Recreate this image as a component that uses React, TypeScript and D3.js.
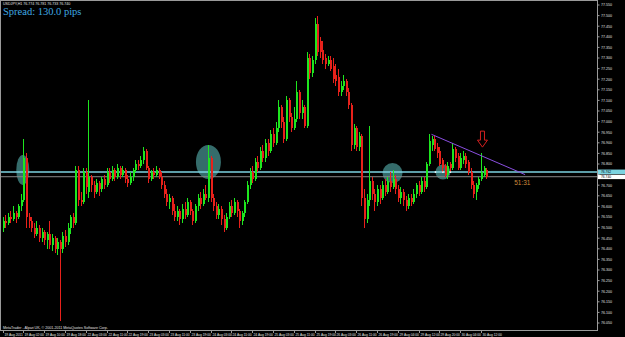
import React from 'react';
import * as d3 from 'd3';

// [open, high, low, close] per H1 bar
const ohlc: [number, number, number, number][] = [
  [76.50,76.55,76.48,76.53],[76.53,76.56,76.50,76.52],[76.52,76.57,76.51,76.55],[76.55,76.58,76.52,76.54],
  [76.54,76.60,76.53,76.57],[76.57,76.58,76.52,76.55],[76.55,76.61,76.54,76.60],[76.60,76.66,76.58,76.63],
  [76.63,76.92,76.62,76.83],[76.83,76.85,76.50,76.55],[76.55,76.57,76.50,76.53],[76.53,76.55,76.48,76.50],
  [76.50,76.52,76.45,76.47],[76.47,76.53,76.46,76.50],[76.50,76.51,76.43,76.45],[76.45,76.50,76.43,76.48],
  [76.48,76.49,76.42,76.44],[76.44,76.48,76.40,76.47],[76.47,76.53,76.40,76.42],[76.42,76.47,76.39,76.45],
  [76.45,76.46,76.38,76.40],[76.40,76.45,76.37,76.43],[76.43,76.44,76.06,76.40],[76.40,76.48,76.38,76.46],
  [76.46,76.49,76.41,76.43],[76.43,76.52,76.42,76.50],[76.50,76.56,76.47,76.55],[76.55,76.57,76.50,76.52],
  [76.52,76.79,76.51,76.77],[76.77,76.79,76.60,76.63],[76.63,76.67,76.60,76.62],[76.62,76.78,76.61,76.76],
  [76.76,76.78,76.66,76.69],[76.67,77.10,76.64,76.74],[76.74,76.75,76.67,76.70],[76.70,76.72,76.64,76.67],
  [76.67,76.73,76.66,76.71],[76.71,76.72,76.65,76.68],[76.68,76.74,76.67,76.73],[76.73,76.75,76.68,76.70],
  [76.70,76.78,76.69,76.76],[76.76,76.78,76.71,76.73],[76.73,76.79,76.72,76.77],[76.77,76.78,76.72,76.74],
  [76.74,76.80,76.73,76.78],[76.78,76.79,76.73,76.75],[76.75,76.79,76.74,76.77],[76.77,76.78,76.71,76.73],
  [76.73,76.75,76.69,76.71],[76.71,76.76,76.70,76.74],[76.74,76.78,76.72,76.77],[76.77,76.82,76.76,76.80],
  [76.80,76.82,76.77,76.79],[76.79,76.84,76.78,76.82],[76.82,76.88,76.80,76.86],[76.86,76.87,76.77,76.78],
  [76.78,76.79,76.71,76.73],[76.73,76.77,76.72,76.76],[76.76,76.78,76.73,76.75],[76.75,76.79,76.74,76.77],
  [76.77,76.78,76.73,76.74],[76.74,76.76,76.68,76.70],[76.70,76.72,76.64,76.66],[76.66,76.68,76.60,76.62],
  [76.62,76.66,76.59,76.64],[76.64,76.65,76.56,76.58],[76.58,76.61,76.53,76.55],[76.55,76.60,76.53,76.58],
  [76.58,76.59,76.51,76.54],[76.54,76.61,76.52,76.59],[76.59,76.62,76.54,76.56],[76.56,76.64,76.55,76.62],
  [76.62,76.63,76.56,76.58],[76.58,76.59,76.51,76.53],[76.53,76.61,76.52,76.60],[76.60,76.66,76.58,76.64],
  [76.64,76.67,76.59,76.61],[76.61,76.68,76.60,76.66],[76.66,76.70,76.63,76.64],[76.64,76.89,76.62,76.83],
  [76.83,76.84,76.62,76.64],[76.64,76.66,76.58,76.60],[76.60,76.62,76.54,76.56],[76.56,76.61,76.54,76.59],
  [76.59,76.60,76.51,76.54],[76.54,76.56,76.48,76.50],[76.50,76.57,76.49,76.55],[76.55,76.62,76.54,76.60],
  [76.60,76.63,76.55,76.57],[76.57,76.64,76.56,76.62],[76.62,76.63,76.55,76.58],[76.58,76.59,76.50,76.53],
  [76.53,76.58,76.51,76.57],[76.57,76.63,76.55,76.62],[76.62,76.72,76.61,76.70],[76.70,76.78,76.68,76.76],
  [76.76,76.79,76.71,76.73],[76.73,76.83,76.72,76.81],[76.81,76.84,76.76,76.78],[76.78,76.88,76.77,76.86],
  [76.86,76.89,76.81,76.83],[76.83,76.92,76.81,76.90],[76.90,76.92,76.84,76.86],[76.86,76.96,76.85,76.94],
  [76.94,76.97,76.88,76.90],[76.90,77.00,76.89,76.97],[76.97,77.10,76.95,77.07],[77.07,77.08,76.97,77.00],
  [77.00,77.02,76.90,76.92],[76.92,77.12,76.91,77.10],[77.10,77.11,77.00,77.02],[77.02,77.04,76.95,76.97],
  [76.97,77.07,76.96,77.01],[77.01,77.19,77.00,77.14],[77.14,77.15,77.01,77.04],[77.04,77.10,77.01,77.07],
  [77.07,77.08,76.97,76.98],[76.98,77.33,76.97,77.30],[77.30,77.32,77.20,77.23],[77.23,77.31,77.21,77.29],
  [77.29,77.49,77.27,77.46],[77.46,77.50,77.31,77.33],[77.38,77.40,77.30,77.33],[77.34,77.38,77.27,77.29],
  [77.30,77.32,77.25,77.27],[77.27,77.31,77.26,77.29],[77.29,77.31,77.24,77.25],[77.26,77.30,77.18,77.20],
  [77.22,77.27,77.17,77.19],[77.21,77.25,77.12,77.14],[77.14,77.19,77.12,77.17],[77.17,77.22,77.15,77.19],
  [77.19,77.20,77.12,77.14],[77.14,77.16,77.06,77.08],[77.08,77.09,76.86,76.89],[76.89,76.99,76.87,76.97],
  [76.97,76.98,76.86,76.88],[76.88,76.95,76.86,76.93],[76.93,76.94,76.60,76.64],[76.64,76.68,76.50,76.54],
  [76.54,76.66,76.52,76.63],[76.63,76.98,76.60,76.72],[76.72,76.74,76.63,76.66],[76.66,76.68,76.58,76.62],
  [76.62,76.70,76.60,76.68],[76.68,76.70,76.61,76.64],[76.64,76.72,76.63,76.70],[76.70,76.73,76.65,76.67],
  [76.67,76.74,76.66,76.72],[76.72,76.76,76.67,76.69],[76.69,76.77,76.68,76.73],[76.73,76.75,76.66,76.68],
  [76.68,76.70,76.62,76.64],[76.64,76.69,76.61,76.67],[76.67,76.68,76.60,76.63],[76.63,76.65,76.58,76.60],
  [76.60,76.66,76.59,76.64],[76.64,76.66,76.60,76.62],[76.62,76.68,76.61,76.66],[76.66,76.71,76.64,76.70],
  [76.70,76.72,76.65,76.67],[76.67,76.74,76.66,76.72],[76.72,76.74,76.67,76.69],[76.69,76.81,76.68,76.80],
  [76.80,76.94,76.79,76.91],[76.89,76.93,76.86,76.92],[76.92,76.93,76.86,76.87],[76.88,76.90,76.83,76.85],
  [76.86,76.88,76.79,76.80],[76.82,76.83,76.76,76.78],[76.79,76.80,76.74,76.75],[76.75,76.81,76.73,76.79],
  [76.80,76.81,76.76,76.78],[76.78,76.90,76.77,76.87],[76.87,76.88,76.81,76.83],[76.84,76.85,76.77,76.78],
  [76.78,76.85,76.77,76.83],[76.82,76.86,76.80,76.84],[76.84,76.85,76.78,76.80],[76.81,76.82,76.75,76.76],
  [76.76,76.78,76.68,76.70],[76.70,76.72,76.64,76.66],[76.67,76.71,76.63,76.70],[76.70,76.74,76.68,76.73],
  [76.73,76.85,76.72,76.76],[76.75,76.79,76.74,76.78],[76.77,76.78,76.73,76.74],
];

const dateLabels = [
  '19 Aug 2011', '19 Aug 02:00', '19 Aug 10:00', '19 Aug 18:00', '22 Aug 03:00', '22 Aug 11:00',
  '22 Aug 19:00', '23 Aug 03:00', '23 Aug 11:00', '23 Aug 19:00', '24 Aug 03:00', '24 Aug 11:00',
  '24 Aug 19:00', '25 Aug 03:00', '25 Aug 11:00', '25 Aug 19:00', '26 Aug 03:00', '26 Aug 11:00',
  '26 Aug 19:00', '29 Aug 04:00', '29 Aug 12:00', '29 Aug 20:00', '30 Aug 04:00', '30 Aug 12:00',
];
const labelEvery = 8;

const priceMin = 76.05;
const priceMax = 77.55;
const priceStep = 0.05;

const hLinePrice = 76.762;
const bidPrice = 76.740;

const trendBars = [165, 201];
const trendPrices = [76.94, 76.75];

const ellipseBars = [7.8, 79.2, 150, 169.4];
const ellipsePrices = [76.772, 76.81, 76.757, 76.762];
const ellipseRx = [6.5, 12.5, 10, 7.5];
const ellipseRy = [15, 17, 10, 7.5];

const arrowBar = 184.6;
const arrowPrice = 76.955;
const timerBar = 196.8;
const timerPrice = 76.70;

const W = 625, H = 337;
const axisX = 597, axisY = 330;

export default function App() {
  const x = d3.scaleLinear().domain([0, 186]).range([2.5, 2.5 + 2.6 * 186]);
  const y = d3.scaleLinear().domain([priceMin, priceMax]).range([323, 5]);
  const ticks = d3.range(0, Math.round((priceMax - priceMin) / priceStep) + 1).map(i => priceMax - i * priceStep);
  const fmt = d3.format('.3f');
  const tiny = { fontFamily: 'Liberation Sans, Arial, sans-serif', fontSize: 3.6, fill: '#e0e0e0' } as const;
  const tinyX = { fontFamily: 'Liberation Sans, Arial, sans-serif', fontSize: 3.3, fill: '#e0e0e0' } as const;

  const ay = y(arrowPrice), ax = x(arrowBar);
  const arrowPath = `M${ax - 2},${ay} L${ax + 2},${ay} L${ax + 2},${ay + 9} L${ax + 5},${ay + 9} L${ax},${ay + 16} L${ax - 5},${ay + 9} L${ax - 2},${ay + 9} Z`;

  const yH = y(hLinePrice), yB = y(bidPrice);

  return (
    <svg width={W} height={H} style={{ position: 'absolute', left: 0, top: 0, background: '#000' }}>
      <rect x={0} y={0} width={W} height={H} fill="#000" />
      {ellipseBars.map((b, i) => (
        <ellipse key={'e' + i} cx={x(b)} cy={y(ellipsePrices[i])} rx={ellipseRx[i]} ry={ellipseRy[i]} fill="#3b7877" opacity={0.9} />
      ))}
      <line x1={0} x2={axisX} y1={yH} y2={yH} stroke="#7cd3e0" strokeWidth={1.6} />
      <line x1={0} x2={axisX} y1={yB} y2={yB} stroke="#8a8a8a" strokeWidth={1} />
      <g shapeRendering="crispEdges">
        {ohlc.map(([o, h, l, c], i) => {
          const up = c >= o;
          const col = up ? '#1ee61e' : '#e8211b';
          const cx = Math.round(x(i));
          const top = y(Math.max(o, c));
          const bot = y(Math.min(o, c));
          return (
            <g key={i}>
              <line x1={cx + 0.5} x2={cx + 0.5} y1={y(Math.max(h, o, c))} y2={y(Math.min(l, o, c))} stroke={col} strokeWidth={1} />
              <rect x={cx - 0.5} y={top} width={2} height={Math.max(1, bot - top)} fill={col} />
            </g>
          );
        })}
      </g>
      {[-1, 0, 1].map(d => (
        <rect key={'d' + d} x={x(ellipseBars[3]) + d * 7.5 - 0.75} y={y(ellipsePrices[3]) - 0.75} width={1.5} height={1.5} fill="#ffffff" />
      ))}
      <line x1={x(trendBars[0])} y1={y(trendPrices[0])} x2={x(trendBars[1])} y2={y(trendPrices[1])} stroke="#8a4fe0" strokeWidth={1} />
      <path d={arrowPath} fill="none" stroke="#d42020" strokeWidth={1} />
      <text x={x(timerBar)} y={y(timerPrice)} fontFamily="Liberation Sans, Arial, sans-serif" fontSize={6.5} fill="#d08a3a">51:31</text>
      <line x1={0.5} x2={0.5} y1={0} y2={axisY} stroke="#9a9a9a" />
      <line x1={0} x2={axisX} y1={0.5} y2={0.5} stroke="#9a9a9a" />
      <line x1={axisX + 0.5} x2={axisX + 0.5} y1={0} y2={axisY} stroke="#9a9a9a" />
      <line x1={0} x2={axisX + 1} y1={axisY + 0.5} y2={axisY + 0.5} stroke="#9a9a9a" />
      {ticks.map((p, i) => {
        const ty = y(p);
        const hidden = Math.abs(ty - yH) < 4.5 || Math.abs(ty - yB) < 4.5;
        return (
          <g key={'t' + i}>
            <line x1={axisX} x2={axisX + 2.5} y1={ty} y2={ty} stroke="#9a9a9a" />
            {!hidden && <text x={axisX + 4} y={ty + 1.3} {...tiny}>{fmt(p)}</text>}
          </g>
        );
      })}
      <rect x={axisX + 1} y={yH - 2.5} width={27} height={4.6} fill="#7cd3e0" />
      <text x={axisX + 4} y={yH + 1.2} {...tiny} fontSize={3.3} fill="#000">{fmt(hLinePrice)}</text>
      <rect x={axisX + 1} y={yB - 2.0} width={27} height={4.4} fill="#ffffff" />
      <text x={axisX + 4} y={yB + 1.6} {...tiny} fontSize={3.3} fill="#000">{fmt(bidPrice)}</text>
      {dateLabels.map((t, j) => {
        const tx = Math.round(x(j * labelEvery));
        return (
          <g key={'x' + j}>
            <line x1={tx + 0.5} x2={tx + 0.5} y1={axisY} y2={axisY + 3} stroke="#9a9a9a" />
            <text x={tx + 1.5} y={axisY + 5.6} {...tinyX}>{t}</text>
          </g>
        );
      })}
      <text x={3} y={5} {...tiny}>USDJPY,H1  76.774 76.781 76.733 76.740</text>
      <text x={3} y={14.5} fontFamily="Liberation Serif, Times New Roman, serif" fontSize={10.5} fill="#3fa9e2">Spread: 130.0 pips</text>
      <text x={3} y={328.6} {...tiny}>MetaTrader - Alpari UK, © 2001-2011 MetaQuotes Software Corp.</text>
    </svg>
  );
}
